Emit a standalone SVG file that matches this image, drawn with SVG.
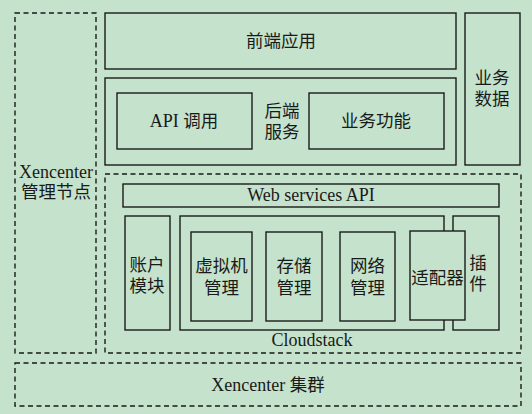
<svg xmlns="http://www.w3.org/2000/svg" width="532" height="414" viewBox="0 0 532 414">
<style>
.s{fill:none;stroke:#1a1a1a;stroke-width:1.4}
.d{fill:none;stroke:#1a1a1a;stroke-width:1.4;stroke-dasharray:5,3.5}
.f{fill:#c5e3cc;stroke:#1a1a1a;stroke-width:1.4}
text{font-family:"Liberation Serif","Noto Sans CJK SC",serif;font-size:17.5px;fill:#1a1a1a;text-anchor:middle;dominant-baseline:central}
.l{font-size:18px}
</style>
<rect width="532" height="414" fill="#c5e3cc"/>
<g id="xencenter-node"><rect class="d" x="15" y="13" width="81" height="340"/><text class="l" x="56" y="172">Xencenter</text><text x="56" y="192">管理节点</text></g>
<g id="frontend"><rect class="s" x="105" y="13" width="351" height="56"/><text x="281" y="41">前端应用</text></g>
<g id="backend"><rect class="s" x="105" y="78" width="351" height="87"/><text x="282" y="111">后端</text><text x="282" y="132">服务</text></g>
<g id="api"><rect class="s" x="117" y="93" width="135" height="56"/><text x="184" y="121"><tspan class="l">API</tspan> 调用</text></g>
<g id="biz-func"><rect class="s" x="309" y="93" width="135" height="56"/><text x="376" y="121">业务功能</text></g>
<g id="biz-data"><rect class="s" x="465" y="13" width="55" height="152"/><text x="492" y="78">业务</text><text x="492" y="99">数据</text></g>
<g id="cloudstack-area"><rect class="d" x="105" y="174" width="416" height="179"/><text class="l" x="312" y="340">Cloudstack</text></g>
<g id="webapi"><rect class="s" x="123" y="184" width="376" height="23"/><text class="l" x="311" y="195">Web services API</text></g>
<g id="account"><rect class="s" x="125" y="216" width="45" height="114"/><text x="147" y="265">账户</text><text x="147" y="286">模块</text></g>
<g id="cloudstack"><rect class="s" x="180" y="216" width="264" height="114"/></g>
<g id="plugin"><rect class="s" x="453" y="216" width="46" height="114"/><text x="478" y="263">插</text><text x="478" y="284">件</text></g>
<g id="vm"><rect class="s" x="191" y="232" width="61" height="89"/><text x="221.5" y="266">虚拟机</text><text x="221.5" y="288">管理</text></g>
<g id="storage"><rect class="s" x="266" y="232" width="56" height="89"/><text x="294" y="266">存储</text><text x="294" y="288">管理</text></g>
<g id="network"><rect class="s" x="340" y="232" width="55" height="89"/><text x="367.5" y="266">网络</text><text x="367.5" y="288">管理</text></g>
<g id="adapter"><rect class="f" x="410" y="231" width="55" height="89"/><text x="437.5" y="278">适配器</text></g>
<g id="cluster"><rect class="d" x="15" y="363" width="506" height="43"/><text x="268" y="385"><tspan class="l">Xencenter</tspan> 集群</text></g>
<g id="connectors"></g>
</svg>
